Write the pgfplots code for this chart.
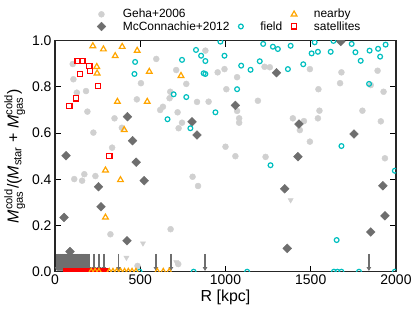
\documentclass[border=0pt]{standalone}
\usepackage{pgfplots}
\pgfplotsset{compat=1.18}
\usepackage{amsmath}
\usepackage{fontspec}
\setmainfont{Liberation Sans}
\usetikzlibrary{arrows.meta}
\definecolor{gehagray}{HTML}{D0D0D0}
\definecolor{mcgray}{HTML}{6E6E6E}
\definecolor{fieldcyan}{HTML}{00BFBF}
\definecolor{nearorange}{HTML}{FFA500}

\pgfplotstableread{
x y
104 0.899
108 0.833
128 0.775
182 0.782
190 0.693
225 0.602
349 0.664
392 0.623
480 0.746
504 0.816
594 0.921
335 0.537
113 0.401
159 0.394
172 0.422
237 0.414
325 0.162
678 0.184
807 0.411
839 0.371
1000 0.541
1058 0.500
1235 0.497
1436 0.613
1495 0.563
1935 0.491
711 0.873
770 0.813
676 0.779
672 0.751
633 0.714
617 0.700
719 0.690
833 0.735
901 0.736
882 0.957
954 0.863
994 0.877
1005 0.790
1068 0.842
745 0.645
725 0.621
1190 0.740
1068 0.696
1080 0.664
1080 0.645
1229 0.887
1260 0.885
1495 0.877
1680 0.863
1892 0.870
1672 0.816
1545 0.790
1927 0.779
1551 0.697
1803 0.697
1395 0.664
1460 0.652
1542 0.664
1911 0.651
1852 0.808
484 0.025
723 0.033
}\geha

\pgfplotstableread{
x y
516 0.123
419 0.061
100 0.033
711 0.042
1382 0.310
}\gehalim

\pgfplotstableread{
x y
425 0.671
804 0.649
833 0.592
455 0.567
65 0.502
476 0.474
523 0.394
255 0.368
270 0.281
53 0.235
422 0.134
88 0.087
1299 0.861
1058 0.720
1431 0.639
1754 0.596
1425 0.498
1347 0.359
1923 0.372
1935 0.242
1852 0.172
1362 0.101
2008 0.108
1676 0.997
}\mcc

\pgfplotstableread{
x y
12 0.077
16 0.077
20 0.077
24 0.077
28 0.077
32 0.077
36 0.077
40 0.077
44 0.077
48 0.077
52 0.077
56 0.077
60 0.077
64 0.077
68 0.077
72 0.077
76 0.077
80 0.077
84 0.077
88 0.077
92 0.077
96 0.077
100 0.077
104 0.077
108 0.077
112 0.077
116 0.077
120 0.077
124 0.077
128 0.077
132 0.077
136 0.077
140 0.077
144 0.077
148 0.077
152 0.077
156 0.077
160 0.077
164 0.077
168 0.077
172 0.077
176 0.077
180 0.077
184 0.077
188 0.077
200 0.077
228 0.077
257 0.077
286 0.077
373 0.077
592 0.077
680 0.077
880 0.077
1841 0.077
}\mcclim

\pgfplotstableread{
x y
970 0.996
827 0.960
857 0.935
882 0.912
745 0.917
470 0.908
466 0.856
872 0.859
882 0.856
994 0.935
696 0.768
770 0.756
660 0.660
794 0.621
941 0.690
1092 0.892
1147 0.874
1201 0.911
1221 0.986
1278 0.974
1307 0.964
1382 0.978
1366 0.877
1456 0.898
1523 0.993
1505 0.945
1542 0.952
1617 0.952
1633 0.999
1740 0.986
1762 0.950
1793 0.913
1845 0.957
1895 0.965
1907 0.931
1939 0.983
1842 0.813
1068 0.790
1680 0.544
1264 0.461
1993 0.437
1652 0.137
496 0
813 0
1127 0
1636 0
1656 0
1680 0
1783 0
1993 0
}\field

\pgfplotstableread{
x y
222 0.977
284 0.963
394 0.974
482 0.957
353 0.934
245 0.887
247 0.859
553 0.866
739 0.848
366 0.736
541 0.736
406 0.614
296 0.439
384 0.397
296 0.235
212 0
235 0
258 0
318 0
340 0
362 0
385 0
408 0
430 0
452 0
475 0
600 0
635 0
670 0
}\nearby

\pgfplotstableread{
x y
133 0.913
161 0.913
202 0.890
206 0.868
147 0.855
251 0.804
122 0.750
84 0.717
319 0.502
68 0
76 0
84 0
92 0
100 0
108 0
116 0
124 0
132 0
140 0
148 0
156 0
164 0
172 0
180 0
188 0
196 0
204 0
212 0
220 0
228 0
236 0
244 0
252 0
260 0
268 0
276 0
284 0
292 0
300 0
}\sats

\begin{document}
\begin{tikzpicture}
\begin{axis}[
  scale only axis,
  width=341bp, height=231bp,
  xmin=0, xmax=2000, ymin=0, ymax=1,
  xtick={0,500,1000,1500,2000},
  ytick={0,0.2,0.4,0.6,0.8,1.0},
  yticklabel style={/pgf/number format/fixed,/pgf/number format/fixed zerofill,/pgf/number format/precision=1},
  /pgf/number format/assume math mode=true,
  /pgf/number format/1000 sep={},
  tick align=inside,
  xtick pos=both, ytick pos=both,
  xticklabel pos=lower, yticklabel pos=left,
  major tick length=6bp,
  every tick/.style={line width=1.1bp, black},
  axis line style={line width=1.5bp, black!85},
  tick label style={font=\fontsize{14}{16}\selectfont},
  xlabel={R [kpc]},
  xlabel style={font=\fontsize{16}{18}\selectfont, yshift=2bp},
  ylabel={\textit{M}$^{\text{cold}}_{\text{gas}}$/(\textit{M}$_{\text{star}}$ + \textit{M}$^{\text{cold}}_{\text{gas}}$)},
  ylabel style={font=\fontsize{16}{18}\selectfont},
  clip marker paths=true,
  legend columns=3,
  legend cell align=left,
  legend image code/.code={\draw[#1] plot coordinates {(0pt,0pt)};},
  legend style={draw=none, fill=none, font=\fontsize{12}{14}\selectfont,
    at={(axis description cs:0.114,1.15)}, anchor=north west,
    nodes={inner sep=1bp},
    /tikz/every odd column/.append style={column sep=16bp},
    /tikz/every even column/.append style={column sep=8bp}},
]
\addlegendimage{only marks, mark=*, mark size=3bp, color=gehagray}
\addlegendentry{Geha+2006}
\addlegendimage{empty legend}
\addlegendentry{}
\addlegendimage{only marks, mark=triangle, mark size=3.3bp, color=nearorange, line width=1.2bp}
\addlegendentry{nearby}
\addlegendimage{only marks, mark=square*, mark size=3.1bp, mark options={rotate=45}, color=mcgray}
\addlegendentry{McConnachie+2012}
\addlegendimage{only marks, mark=o, mark size=2.4bp, color=fieldcyan, line width=1.2bp}
\addlegendentry{field}
\addlegendimage{only marks, mark=square, mark size=2.6bp, color=red, line width=1.2bp}
\addlegendentry{satellites}

\addplot[forget plot, color=gehagray, only marks, mark=*, mark size=3bp] table {\geha};
\addplot[forget plot, color=gehagray, only marks, mark=triangle*, mark size=3bp, mark options={rotate=180}] table {\gehalim};
\addplot[forget plot, color=mcgray, only marks, mark=square*, mark size=3.1bp, mark options={rotate=45}] table {\mcc};
\addplot[forget plot, mcgray, line width=1.6bp, -{Triangle[length=4bp,width=4.5bp]},
  quiver={u=0, v=-0.074}] table {\mcclim};
\addplot[forget plot, color=fieldcyan, only marks, mark=o, mark size=2.4bp, line width=1.2bp] table {\field};
\addplot[forget plot, color=red, only marks, mark=square, mark size=2.6bp, line width=1.2bp] table {\sats};
\addplot[forget plot, color=nearorange, only marks, mark=triangle, mark size=3.3bp, line width=1.2bp] table {\nearby};
\end{axis}
\path ([xshift=-55bp,yshift=-42.3bp]current axis.south west) rectangle ([xshift=19bp,yshift=40.7bp]current axis.north east);
\end{tikzpicture}
\end{document}
